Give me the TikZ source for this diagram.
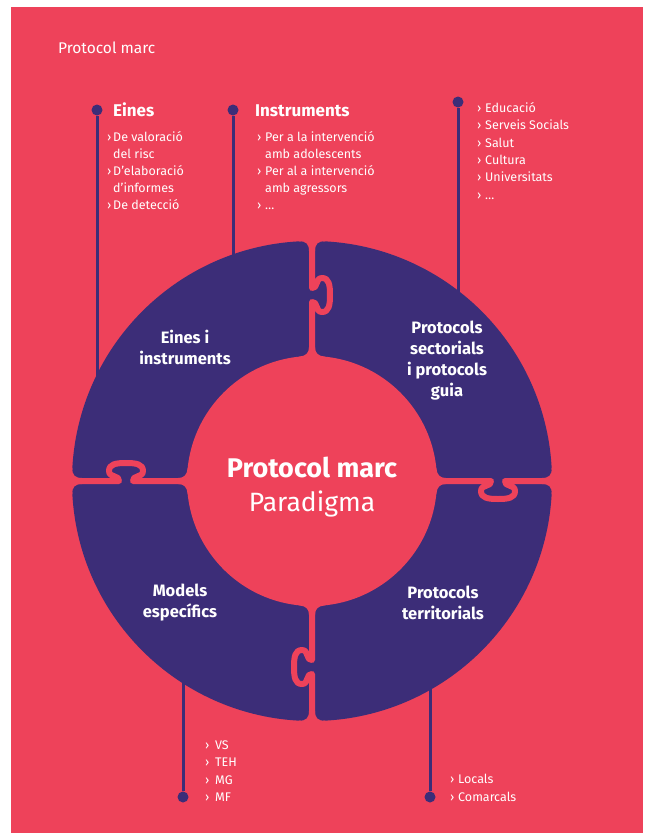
\documentclass[tikz,border=0pt]{standalone}
\usepackage{fontspec}
\setmainfont{Fira Sans}
\definecolor{bgred}{RGB}{238,66,90}
\definecolor{ringpurple}{RGB}{60,45,120}
\newcommand{\itemarrow}[1]{\makebox[#1][l]{›}}
\tikzset{
  hd/.style={font=\fontsize{17}{20}\selectfont\bfseries, text=white, anchor=base west, inner sep=0pt},
  itm/.style={font=\fontsize{12.5}{15}\selectfont, text=white, anchor=base west, inner sep=0pt},
  lbl/.style={font=\fontsize{16.5}{21}\selectfont\bfseries, text=white, align=center, inner sep=0pt},
  dot/.style={circle, fill=ringpurple, inner sep=0pt, minimum size=11pt},
  leader/.style={ringpurple, line width=3pt},
  joint/.pic={
    % rounded piece corners
    \fill[bgred] (3,-230) .. controls (3,-237) and (6,-240) .. (13,-239.6) -- (13,-248) -- (3,-248) -- cycle;
    \fill[bgred] (-3,-230) .. controls (-3,-237) and (-6,-240) .. (-13,-239.6) -- (-13,-248) -- (-3,-248) -- cycle;
    \fill[bgred] (3,-134) .. controls (3,-128) and (6,-125) .. (13,-124.3) -- (13,-116) -- (3,-116) -- cycle;
    \fill[bgred] (-3,-134) .. controls (-3,-128) and (-6,-125) .. (-13,-124.3) -- (-13,-116) -- (-3,-116) -- cycle;
    % gap with knob
    \draw[bgred, line width=6pt, line join=round] (0,-118) -- (0,-179)
      .. controls (6,-180) and (3,-169) .. (10,-169)
      .. controls (17,-169) and (18,-176) .. (18,-186)
      .. controls (18,-196) and (17,-203) .. (10,-203)
      .. controls (3,-203) and (6,-192) .. (0,-193) -- (0,-247);
  }
}
\begin{document}
\begin{tikzpicture}[x=1pt,y=-1pt]
\useasboundingbox (0,0) rectangle (648,833);
\fill[bgred] (11,7) rectangle (643,833);
\coordinate (ctr) at (312,481);
\node[itm, font=\fontsize{15.5}{18}\selectfont] (title) at (58,53) {Protocol marc};
%% leaders
\node[dot] (einesdot) at (97,110) {};
\coordinate (einesend) at (97,420);
\draw[leader] (einesdot) -- (einesend);
\node[dot] (instdot) at (233,110) {};
\coordinate (instend) at (233,290);
\draw[leader] (instdot) -- (instend);
\node[dot] (sectdot) at (458,102) {};
\coordinate (sectend) at (458,330);
\draw[leader] (sectdot) -- (sectend);
\node[dot] (moddot) at (183,797) {};
\coordinate (modend) at (183,640);
\draw[leader] (moddot) -- (modend);
\node[dot] (terrdot) at (430,797) {};
\coordinate (terrend) at (430,640);
\draw[leader] (terrdot) -- (terrend);
%% ring
\fill[ringpurple] (ctr) circle (240);
\fill[bgred] (ctr) circle (125);
\pic at (ctr) {joint};
\pic[rotate=-90] at (ctr) {joint};
\pic[rotate=-180] at (ctr) {joint};
\pic[rotate=90] at (ctr) {joint};
%% ring labels
\node[lbl] (einesring) at (185,347) {Eines i\\instruments};
\node[lbl] (sectring) at (447,361) {Protocols\\sectorials\\i protocols\\guia};
\node[lbl] (modring) at (180,603) {Models\\específics};
\node[lbl] (terrring) at (443,603) {Protocols\\territorials};
\node[font=\fontsize{27}{30}\selectfont\bfseries, text=white, anchor=base, inner sep=0pt] (marc) at (312,477) {Protocol marc};
\node[font=\fontsize{26.5}{30}\selectfont, text=white, anchor=base, inner sep=0pt] (parad) at (312,511) {Paradigma};
%% Eines
\node[hd] (eineshd) at (113,116) {Eines};
\node[itm] (e1) at (107,141) {\itemarrow{6pt}De valoració};
\node[itm] (e2) at (113,158) {del risc};
\node[itm] (e3) at (107,175) {\itemarrow{6pt}D’elaboració};
\node[itm] (e4) at (113,192) {d’informes};
\node[itm] (e5) at (107,209) {\itemarrow{6pt}De detecció};
%% Instruments
\node[hd] (insthd) at (255,116) {Instruments};
\node[itm] (i1) at (257,141) {\itemarrow{8pt}Per a la intervenció};
\node[itm] (i2) at (265,158) {amb adolescents};
\node[itm] (i3) at (257,175) {\itemarrow{8pt}Per al a intervenció};
\node[itm] (i4) at (265,192) {amb agressors};
\node[itm] (i5) at (257,209) {\itemarrow{8pt}…};
%% sectorials
\node[itm] (s1) at (477,112) {\itemarrow{8pt}Educació};
\node[itm] (s2) at (477,129) {\itemarrow{8pt}Serveis Socials};
\node[itm] (s3) at (477,147) {\itemarrow{8pt}Salut};
\node[itm] (s4) at (477,164) {\itemarrow{8pt}Cultura};
\node[itm] (s5) at (477,181) {\itemarrow{8pt}Universitats};
\node[itm] (s6) at (477,199) {\itemarrow{8pt}…};
%% models
\node[itm] (m1) at (205,749) {\itemarrow{10pt}VS};
\node[itm] (m2) at (205,766) {\itemarrow{10pt}TEH};
\node[itm] (m3) at (205,784) {\itemarrow{10pt}MG};
\node[itm] (m4) at (205,801) {\itemarrow{10pt}MF};
%% territorials
\node[itm] (t1) at (450,783) {\itemarrow{8pt}Locals};
\node[itm] (t2) at (450,801) {\itemarrow{8pt}Comarcals};
\end{tikzpicture}
\end{document}
